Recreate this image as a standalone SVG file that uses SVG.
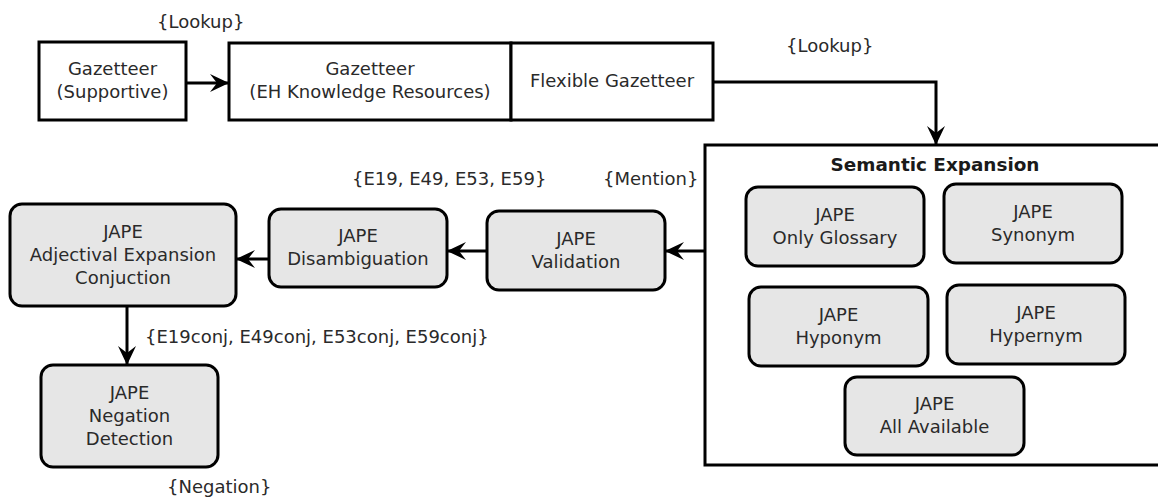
<svg xmlns="http://www.w3.org/2000/svg" width="1158" height="500" viewBox="0 0 1158 500">
<defs>
<marker id="arr" markerUnits="userSpaceOnUse" viewBox="-20 -10 22 20" refX="0" refY="0" markerWidth="22" markerHeight="20" orient="auto">
<path d="M0,0 L-19,-9 L-12,0 L-19,9 Z" fill="#000"/>
</marker>
<style>
text{font-family:"DejaVu Sans","Liberation Sans",sans-serif;font-size:18px;fill:#2a2a2a;text-anchor:middle}
.lbl{text-anchor:start}
.title{font-weight:bold;font-size:18.4px;fill:#1a1a1a}
.sq{fill:#fff;stroke:#000;stroke-width:3}
.rn{fill:#e6e6e6;stroke:#000;stroke-width:3}
.cn{fill:none;stroke:#000;stroke-width:3;marker-end:url(#arr)}
</style>
</defs>
<rect width="1158" height="500" fill="#fff"/>

<g id="gaz-supportive">
<rect class="sq" x="39" y="42" width="147" height="78"/>
<text x="112.5" y="75">Gazetteer</text>
<text x="112.5" y="98">(Supportive)</text>
</g>
<g id="gaz-eh">
<rect class="sq" x="229" y="43" width="282" height="77"/>
<text x="370" y="75">Gazetteer</text>
<text x="370" y="98">(EH Knowledge Resources)</text>
</g>
<g id="gaz-flexible">
<rect class="sq" x="511" y="43" width="202" height="77"/>
<text x="612" y="87">Flexible Gazetteer</text>
</g>

<g id="semantic-expansion">
<rect fill="#fff" stroke="#000" stroke-width="3" x="705" y="145" width="460" height="320"/>
<text class="title" x="935" y="171">Semantic Expansion</text>
</g>
<g id="only-glossary">
<rect class="rn" x="746" y="187" width="178" height="79" rx="12"/>
<text x="835" y="221">JAPE</text>
<text x="835" y="244">Only Glossary</text>
</g>
<g id="synonym">
<rect class="rn" x="944" y="184" width="178" height="79" rx="12"/>
<text x="1033" y="218">JAPE</text>
<text x="1033" y="241">Synonym</text>
</g>
<g id="hyponym">
<rect class="rn" x="749" y="287" width="179" height="79" rx="12"/>
<text x="838.5" y="321">JAPE</text>
<text x="838.5" y="344">Hyponym</text>
</g>
<g id="hypernym">
<rect class="rn" x="947" y="285" width="178" height="79" rx="12"/>
<text x="1036" y="319">JAPE</text>
<text x="1036" y="342">Hypernym</text>
</g>
<g id="all-available">
<rect class="rn" x="845" y="377" width="179" height="78" rx="12"/>
<text x="934.5" y="410">JAPE</text>
<text x="934.5" y="433">All Available</text>
</g>

<g id="validation">
<rect class="rn" x="487" y="211" width="178" height="79" rx="12"/>
<text x="576" y="245">JAPE</text>
<text x="576" y="268">Validation</text>
</g>
<g id="disambiguation">
<rect class="rn" x="269" y="209" width="178" height="78" rx="12"/>
<text x="358" y="242">JAPE</text>
<text x="358" y="265">Disambiguation</text>
</g>
<g id="adjectival">
<rect class="rn" x="10" y="204" width="226" height="102" rx="12"/>
<text x="123" y="238">JAPE</text>
<text x="123" y="261">Adjectival Expansion</text>
<text x="123" y="284">Conjuction</text>
</g>
<g id="negation">
<rect class="rn" x="41" y="365" width="177" height="102" rx="12"/>
<text x="129.5" y="399">JAPE</text>
<text x="129.5" y="422">Negation</text>
<text x="129.5" y="445">Detection</text>
</g>

<g id="connectors">
<path class="cn" d="M186,83 H229"/>
<path class="cn" d="M713,82 H936 V145"/>
<path class="cn" d="M705,251 H665"/>
<path class="cn" d="M487,251 H447"/>
<path class="cn" d="M269,259 H236"/>
<path class="cn" d="M127,306 V365"/>
</g>

<g id="labels">
<text class="lbl" x="157" y="28">{Lookup}</text>
<text class="lbl" x="786" y="52">{Lookup}</text>
<text class="lbl" x="352" y="185">{E19, E49, E53, E59}</text>
<text class="lbl" x="603" y="185">{Mention}</text>
<text class="lbl" x="145" y="343">{E19conj, E49conj, E53conj, E59conj}</text>
<text class="lbl" x="167" y="493">{Negation}</text>
</g>
</svg>
